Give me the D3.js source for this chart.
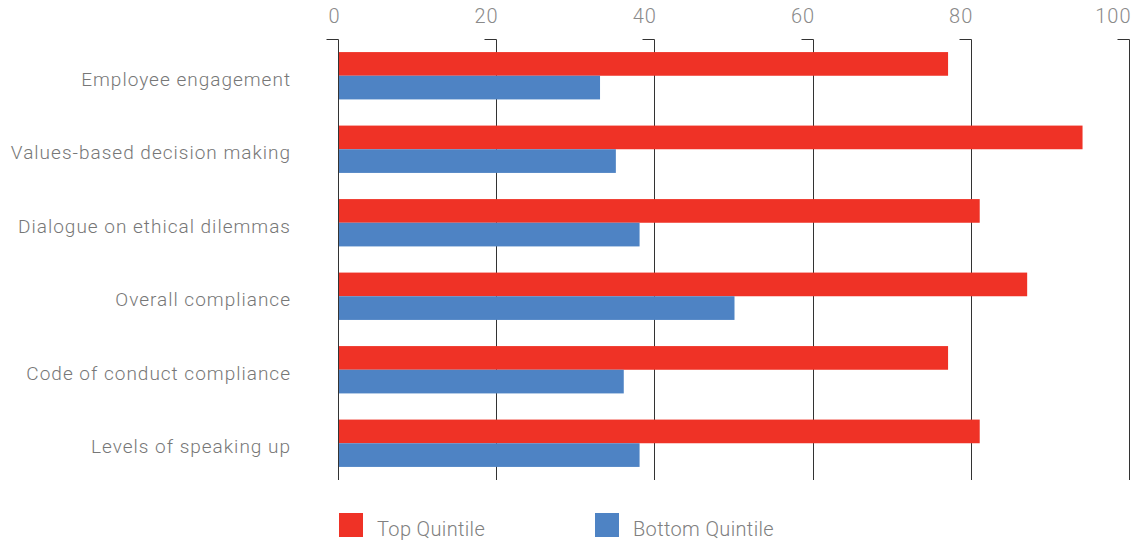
<!DOCTYPE html>
<html>
<head>
<meta charset="utf-8">
<script src="https://cdn.jsdelivr.net/npm/d3@7"></script>
<style>
  html, body { margin: 0; padding: 0; background: #fff; }
  svg text { font-family: Roboto, "Liberation Sans", sans-serif; font-weight: 300; }
</style>
</head>
<body>
<svg id="chart" width="1146" height="542"></svg>
<script>
const categories = [
  "Employee engagement",
  "Values-based decision making",
  "Dialogue on ethical dilemmas",
  "Overall compliance",
  "Code of conduct compliance",
  "Levels of speaking up"
];
const seriesNames = ["Top Quintile", "Bottom Quintile"];
const topQuintile = [77, 94, 81, 87, 77, 81];
const bottomQuintile = [33, 35, 38, 50, 36, 38];
const tickValues = [0, 20, 40, 60, 80, 100];
const colors = ["#EF3226", "#4E83C4"];

const svg = d3.select("#chart");
const x = d3.scaleLinear().domain([0, 100]).range([339, 1130]);
const y = d3.scaleBand().domain(categories).range([39, 480]).paddingInner(0.356).paddingOuter(0.178);
const sub = d3.scaleBand().domain(seriesNames).range([0, y.bandwidth()]);

// gridlines with small left hook at top
const grid = svg.append("g");
tickValues.forEach(v => {
  const gx = Math.round(x(v)) - 0.5;
  grid.append("path")
    .attr("d", `M${gx - 12},39.5H${gx}V480`)
    .attr("fill", "none")
    .attr("stroke", "#333")
    .attr("stroke-width", 1);
});

// top axis labels
const axis = d3.axisTop(x).tickValues(tickValues).tickSize(0).tickPadding(0).tickFormat(d3.format("d"));
const ga = svg.append("g").attr("transform", "translate(0,23)").call(axis);
ga.select(".domain").remove();
ga.selectAll("text")
  .attr("text-anchor", "end")
  .attr("dy", 0)
  .attr("y", 0)
  .attr("x", 1)
  .attr("fill", "#8a8a8a")
  .style("letter-spacing", "1px")
  .style("font-size", "20px");

// bars
const data = categories.map((c, i) => ({ c, vals: [topQuintile[i], bottomQuintile[i]] }));
const rows = svg.append("g").selectAll("g").data(data).join("g")
  .attr("transform", d => `translate(0,${y(d.c)})`);
rows.selectAll("rect").data(d => d.vals.map((v, j) => ({ v, s: seriesNames[j], j })))
  .join("rect")
  .attr("x", x(0))
  .attr("y", d => sub(d.s))
  .attr("width", d => x(d.v) - x(0))
  .attr("height", sub.bandwidth())
  .attr("fill", d => colors[d.j]);

// category labels
const ya = d3.axisLeft(y).tickSize(0).tickPadding(0);
const gy = svg.append("g").attr("transform", "translate(291,0)").call(ya);
gy.select(".domain").remove();
gy.selectAll("text")
  .attr("fill", "#777")
  .attr("dy", "10px")
  .style("letter-spacing", "1px")
  .style("font-size", "19px");

// legend
const legendX = [339, 595];
const lg = svg.append("g").selectAll("g").data(seriesNames).join("g")
  .attr("transform", (d, i) => `translate(${legendX[i]},513)`);
lg.append("rect").attr("width", 24).attr("height", 24).attr("fill", (d, i) => colors[i]);
lg.append("text").attr("x", 38).attr("y", 23).attr("fill", "#808080")
  .style("letter-spacing", "0.35px")
  .style("font-size", "20px").text(d => d);
</script>
</body>
</html>
